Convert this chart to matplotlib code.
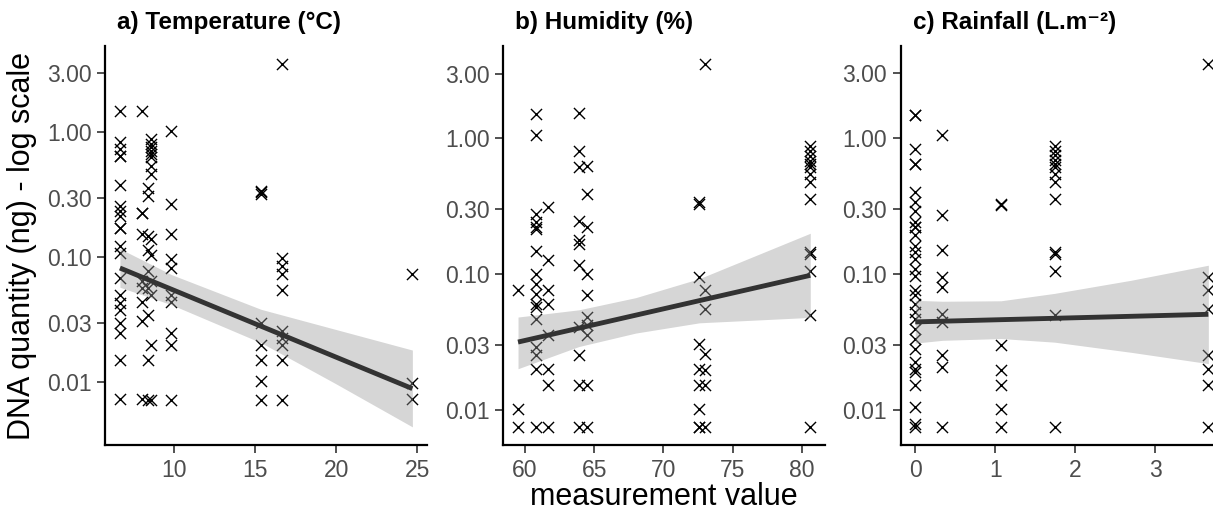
import numpy as np
import matplotlib.pyplot as plt

plt.rcParams['font.family'] = ['Liberation Sans', 'DejaVu Sans']

# DNA quantity (ng) per column of x values
temp_x = [6.66, 8.0, 8.4, 8.6, 9.84, 15.37, 16.66, 24.7]
temp_dna = [
    [1.49, 0.83, 0.73, 0.65, 0.65, 0.38, 0.257, 0.234, 0.213, 0.172, 0.172,
     0.123, 0.108, 0.068, 0.050, 0.043, 0.038, 0.030, 0.0247, 0.0151, 0.0074],
    [1.49, 0.227, 0.227, 0.152, 0.065, 0.057, 0.044, 0.031, 0.0074],
    [0.36, 0.31, 0.148, 0.115, 0.077, 0.057, 0.0347, 0.0151, 0.0072],
    [0.88, 0.80, 0.755, 0.71, 0.67, 0.63, 0.54, 0.46, 0.139, 0.105, 0.064,
     0.050, 0.0199, 0.0072],
    [1.03, 0.265, 0.152, 0.096, 0.082, 0.05, 0.044, 0.0247, 0.0198, 0.0072],
    [0.34, 0.33, 0.32, 0.030, 0.0199, 0.0151, 0.0102, 0.0072],
    [3.5, 0.099, 0.085, 0.073, 0.055, 0.0256, 0.0225, 0.0199, 0.0151, 0.0072],
    [0.073, 0.0098, 0.0074],
]

hum_x = [59.5, 60.8, 61.7, 63.9, 64.5, 72.6, 72.97, 80.6]
hum_dna = [
    [0.076, 0.0102, 0.0075],
    [1.51, 1.05, 0.278, 0.241, 0.222, 0.216, 0.149, 0.101, 0.085, 0.0718,
     0.0606, 0.0573, 0.047, 0.029, 0.0252, 0.0201, 0.0075],
    [0.311, 0.126, 0.076, 0.0606, 0.0354, 0.0201, 0.0152, 0.0075],
    [1.55, 0.81, 0.61, 0.248, 0.177, 0.167, 0.116, 0.0408, 0.0252, 0.0152, 0.0075],
    [0.63, 0.39, 0.222, 0.101, 0.0697, 0.0483, 0.042, 0.0354, 0.0152, 0.0075],
    [0.338, 0.33, 0.095, 0.0308, 0.0201, 0.0152, 0.0102, 0.0075, 0.0075],
    [3.52, 0.076, 0.0557, 0.026, 0.0196, 0.0152, 0.0075],
    [0.88, 0.81, 0.746, 0.686, 0.648, 0.612, 0.547, 0.475, 0.358, 0.145,
     0.141, 0.106, 0.0497, 0.0075],
]

rain_x = [0.0, 0.34, 1.07, 1.74, 3.66]
rain_dna = [
    [1.47, 1.47, 0.836, 0.648, 0.648, 0.401, 0.338, 0.293, 0.241, 0.221,
     0.221, 0.192, 0.162, 0.145, 0.129, 0.109, 0.0973, 0.0759, 0.0697, 0.0606,
     0.0526, 0.0469, 0.0396, 0.0334, 0.0282, 0.0225, 0.0201, 0.019, 0.0152,
     0.0105, 0.0079, 0.0075],
    [1.05, 0.270, 0.149, 0.095, 0.080, 0.051, 0.0444, 0.0252, 0.0207, 0.0075],
    [0.33, 0.32, 0.0299, 0.0196, 0.0152, 0.0102, 0.0075],
    [0.88, 0.81, 0.746, 0.686, 0.648, 0.612, 0.547, 0.475, 0.358, 0.145,
     0.141, 0.106, 0.0497, 0.0075],
    [3.5, 0.095, 0.076, 0.0557, 0.0252, 0.0201, 0.0152, 0.0075],
]

# linear smooth (log scale) and its 95% band
temp_fit_x = [6.66, 24.7]
temp_fit = [0.082, 0.0089]
temp_band_x = [6.66, 9.84, 15.37, 20.0, 24.7]
temp_band_lo = [0.0575, 0.0417, 0.0207, 0.0097, 0.0044]
temp_band_hi = [0.117, 0.0726, 0.0383, 0.0264, 0.0181]

hum_fit_x = [59.5, 80.6]
hum_fit = [0.0316, 0.098]
hum_band_x = [59.5, 63.9, 68.0, 72.6, 80.6]
hum_band_lo = [0.0201, 0.0293, 0.0368, 0.0438, 0.048]
hum_band_hi = [0.0483, 0.0546, 0.0671, 0.0927, 0.2]

rain_fit_x = [0.0, 3.66]
rain_fit = [0.0444, 0.0505]
rain_band_x = [0.0, 0.34, 1.07, 1.74, 2.7, 3.66]
rain_band_lo = [0.031, 0.0325, 0.0335, 0.0315, 0.0265, 0.0219]
rain_band_hi = [0.064, 0.063, 0.0635, 0.072, 0.09, 0.116]

titles = ['a) Temperature (°C)', 'b) Humidity (%)', 'c) Rainfall (L.m⁻²)']
xticks = [[10, 15, 20, 25], [60, 65, 70, 75, 80], [0, 1, 2, 3]]
yticks = [0.01, 0.03, 0.1, 0.3, 1, 3]


def expand(cols, vals):
    x = np.concatenate([[c] * len(v) for c, v in zip(cols, vals)])
    y = np.concatenate(vals)
    return x, y


fig = plt.figure(figsize=(12.13, 5.15), dpi=100)
W, H = 1213.0, 515.0
lefts = [105.3, 503.4, 900.6]
rights = [427.0, 824.9, 1223.0]
top, bottom = 46.0, 445.0

points = [expand(temp_x, temp_dna), expand(hum_x, hum_dna), expand(rain_x, rain_dna)]
fits = [(temp_fit_x, temp_fit), (hum_fit_x, hum_fit), (rain_fit_x, rain_fit)]
bands = [(temp_band_x, temp_band_lo, temp_band_hi),
         (hum_band_x, hum_band_lo, hum_band_hi),
         (rain_band_x, rain_band_lo, rain_band_hi)]

for i in range(3):
    ax = fig.add_axes([lefts[i] / W, 1 - bottom / H, (rights[i] - lefts[i]) / W,
                       (bottom - top) / H])
    x, y = points[i]
    ax.scatter(x, y, marker='x', s=64, c='black', linewidths=1.0, zorder=2)
    bx, lo, hi = bands[i]
    ax.fill_between(bx, lo, hi, color='#999999', alpha=0.4, lw=0, zorder=3)
    ax.plot(fits[i][0], fits[i][1], color='#333333', lw=3.5, zorder=4,
            solid_capstyle='butt')
    ax.set_yscale('log')
    ax.margins(x=0.05, y=0.05)
    ax.set_yticks(yticks)
    ax.set_yticklabels(['%.2f' % v for v in yticks])
    ax.minorticks_off()
    ax.set_xticks(xticks[i])
    for sp in ['top', 'right']:
        ax.spines[sp].set_visible(False)
    for sp in ['left', 'bottom']:
        ax.spines[sp].set_linewidth(1.6)
        ax.spines[sp].set_color('black')
    ax.tick_params(length=6, width=1.2, color='#333333', labelcolor='#4D4D4D',
                   labelsize=16.5, pad=4)
    fig.text((lefts[i] + 12) / W, 1 - 23 / H, titles[i], fontsize=17.5,
             fontweight='bold', ha='left', va='center')

fig.text(22 / W, 1 - 245.5 / H, 'DNA quantity (ng) - log scale', rotation=90,
         fontsize=22, ha='center', va='center')
fig.text(664 / W, 1 - 497 / H, 'measurement value', fontsize=22,
         ha='center', va='center')

fig.savefig('out.png', dpi=100)
